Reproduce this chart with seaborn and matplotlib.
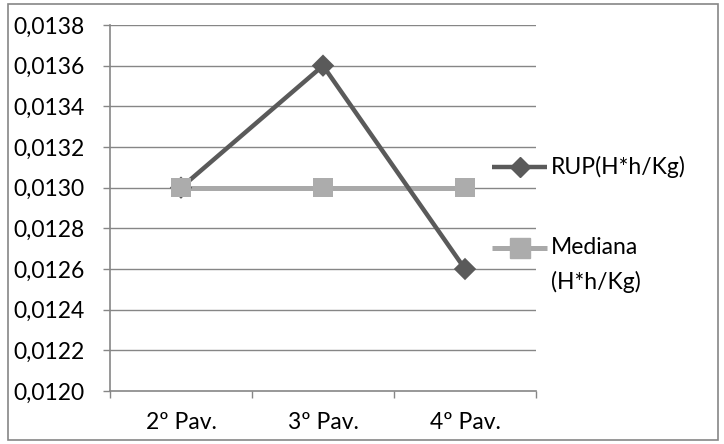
import matplotlib
matplotlib.use("Agg")
import matplotlib.pyplot as plt
from matplotlib.lines import Line2D
from matplotlib.patches import Rectangle
import matplotlib.ticker as mticker
import pandas as pd
import seaborn as sns

# Data
pavimentos = ["2º Pav.", "3º Pav.", "4º Pav."]
rup = [0.0130, 0.0136, 0.0126]
mediana = [0.0130, 0.0130, 0.0130]
serie_rup = "RUP(H*h/Kg)"
serie_med = "Mediana\n(H*h/Kg)"
y_ticks = [0.0120, 0.0122, 0.0124, 0.0126, 0.0128, 0.0130, 0.0132, 0.0134, 0.0136, 0.0138]

df = pd.DataFrame({
    "pav": pavimentos * 2,
    "valor": rup + mediana,
    "serie": [serie_rup] * 3 + [serie_med] * 3,
})

sns.set_theme(style="white")
plt.rcParams["font.family"] = ["Lato", "DejaVu Sans"]

c_rup = "#5a5a5a"
c_med = "#a9a9a9"
c_med_mk = "#acacac"
c_grid = "#868686"
palette = {serie_rup: c_rup, serie_med: c_med}
mk_palette = {serie_rup: c_rup, serie_med: c_med_mk}

W, H = 724, 444
fig = plt.figure(figsize=(W / 100, H / 100), dpi=100)
ax = fig.add_axes([110 / W, (H - 391) / H, (536 - 110) / W, (391 - 25) / H])

# Lines: median underneath, RUP on top
sns.lineplot(
    data=df, x="pav", y="valor", hue="serie", hue_order=[serie_med, serie_rup],
    palette=palette, sort=False, legend=False, ax=ax, zorder=3,
)
for ln in ax.get_lines():
    ln.set_linewidth(3.6 if ln.get_color() == c_med else 3.2)
    ln.set_solid_capstyle("butt")

# Markers above all lines: diamonds first, squares last
sns.scatterplot(
    data=df, x="pav", y="valor", hue="serie", style="serie",
    hue_order=[serie_rup, serie_med], style_order=[serie_rup, serie_med],
    palette=mk_palette, markers={serie_rup: "D", serie_med: "s"},
    size="serie", sizes={serie_rup: 130, serie_med: 200},
    linewidth=0, legend=False, ax=ax, zorder=5,
)

ax.set_xlim(-0.5, 2.5)
ax.set_ylim(0.0120, 0.0138)
ax.set_yticks(y_ticks)
ax.yaxis.set_major_formatter(mticker.FuncFormatter(lambda v, p: f"{v:.4f}".replace(".", ",")))
ax.set_xlabel("")
ax.set_ylabel("")

# Horizontal gridlines
ax.grid(False)
for v in y_ticks[1:]:
    ax.axhline(v, color=c_grid, lw=1.0, zorder=1)

for s in ["top", "right"]:
    ax.spines[s].set_visible(False)
for s in ["left", "bottom"]:
    ax.spines[s].set_color(c_grid)
    ax.spines[s].set_linewidth(1.2)

ax.tick_params(axis="y", which="major", length=5, width=1.0, color=c_grid,
               direction="out", pad=13, labelsize=16.5, labelcolor="black", left=True)
ax.set_xticks([0, 1, 2])
ax.set_xticklabels(pavimentos)
ax.set_xticks([-0.5, 0.5, 1.5, 2.5], minor=True)
ax.tick_params(axis="x", which="major", length=0, pad=15, labelsize=16.5, labelcolor="black")
ax.tick_params(axis="x", which="minor", length=5, width=1.0, color=c_grid, direction="out", bottom=True)

# Legend entries
def px(x, y):
    return x / W, 1 - y / H

for y, color, mcol, mk, ms, lw, label in [
    (167, c_rup, c_rup, "D", 10.3, 3.2, "RUP(H*h/Kg)"),
    (248, c_med, c_med_mk, "s", 14.0, 3.6, "Mediana"),
]:
    x0, yy = px(492, y)
    x1, _ = px(547, y)
    fig.add_artist(Line2D([x0, x1], [yy, yy], color=color, lw=lw, solid_capstyle="butt",
                          transform=fig.transFigure))
    fig.add_artist(Line2D([(x0 + x1) / 2], [yy], marker=mk, ms=ms, color=mcol, mec=mcol,
                          lw=0, transform=fig.transFigure))
    tx, ty = px(551, y)
    fig.text(tx, ty, label, fontsize=16.5, va="center", ha="left", color="black")
tx, ty = px(551, 282)
fig.text(tx, ty, "(H*h/Kg)", fontsize=16.5, va="center", ha="left", color="black")

# Outer chart border
fig.add_artist(Rectangle((8 / W, 4 / H), (718 - 8) / W, (440 - 4) / H, transform=fig.transFigure,
                         fill=False, edgecolor=c_grid, lw=1.2))

fig.savefig("out.png", dpi=100)
